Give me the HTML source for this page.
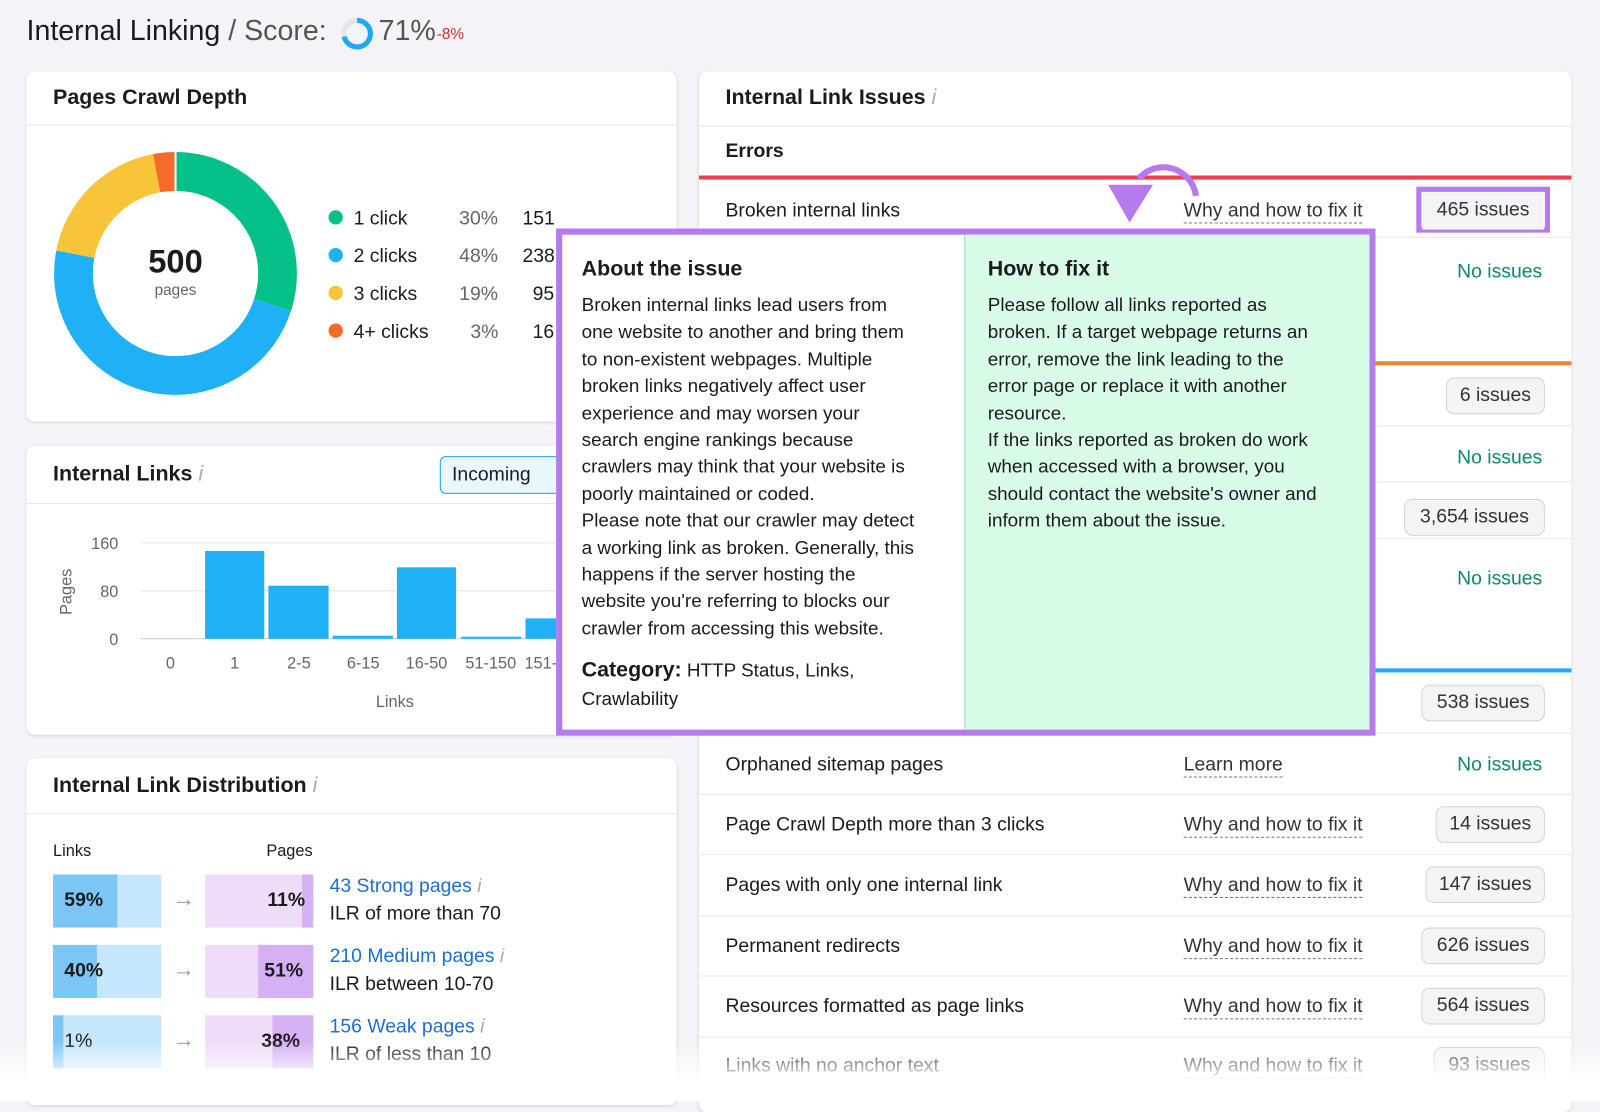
<!DOCTYPE html>
<html><head><meta charset="utf-8"><style>
*{box-sizing:border-box;margin:0;padding:0}
body{width:1600px;height:1079px;background:#f4f4f8;font-family:"Liberation Sans",sans-serif;color:#1b1b1f;position:relative;overflow:hidden}
#w{position:absolute;left:0;top:0;width:1568px;height:1058px;transform:scale(1.0204);transform-origin:0 0}
.a{position:absolute;white-space:nowrap}
.card{position:absolute;background:#fff;border-radius:8px;box-shadow:0 1px 3px rgba(0,0,0,.12)}
.h{font-weight:bold;font-size:21px}
.hl{position:absolute;height:1px;background:#e4e4ea}
.t{font-size:19px}
.badge{position:absolute;height:36px;border:1px solid #d2d2da;border-radius:8px;background:#f4f4f7;font-size:19px;color:#333;text-align:center;line-height:34px}
.link{position:absolute;font-size:19px;color:#333;border-bottom:1.5px dashed #777;line-height:22px}
.noi{position:absolute;font-size:19px;color:#0b8a6a}
.sep{position:absolute;left:685px;width:855px;height:1px;background:#e8e8ee}
</style></head><body><div id="w">
<div class="a" style="left:26px;top:14px;font-size:28px">Internal Linking <span style="color:#555">/ Score:</span></div>
<svg class="a" style="left:334px;top:17px" width="32" height="32"><circle cx="16" cy="16" r="13" fill="none" stroke="#e3e5ea" stroke-width="5"/><circle cx="16" cy="16" r="13" fill="none" stroke="#1ea8f5" stroke-width="5" stroke-dasharray="58 82" transform="rotate(-90 16 16)"/></svg>
<div class="a" style="left:371px;top:14px;font-size:28px;color:#555">71%</div>
<div class="a" style="left:428px;top:25px;font-size:15px;color:#e0242f">-8%</div>

<div class="card" style="left:26px;top:70px;width:637px;height:343px"></div>
<div class="a h" style="left:52px;top:84px">Pages Crawl Depth</div>
<div class="hl" style="left:26px;top:122px;width:637px"></div>
<svg class="a" style="left:52px;top:148px" width="240" height="240">
<g transform="translate(120,120) rotate(-90)" fill="none" stroke-width="38">
<circle r="100" stroke="#06c08a" stroke-dasharray="188.5 700"/>
<circle r="100" stroke="#1fb0f5" stroke-dasharray="0 188.5 301.6 700"/>
<circle r="100" stroke="#f8c43a" stroke-dasharray="0 490.1 119.4 700"/>
<circle r="100" stroke="#f66a2a" stroke-dasharray="0 609.5 18.8 700"/>
</g>
<g stroke="#fff" stroke-width="2" transform="translate(120,120)"><line x1="0" y1="-81" x2="0" y2="-120"/></g>
</svg>
<div class="a" style="left:122px;top:238px;width:100px;text-align:center;font-size:32px;font-weight:bold">500</div>
<div class="a" style="left:122px;top:276px;width:100px;text-align:center;font-size:15px;color:#666">pages</div>
<div class="a t" style="left:322px;top:196px;line-height:37px">
<div><span style="display:inline-block;width:14px;height:14px;border-radius:7px;background:#06c08a"></span>&nbsp; 1 click<span class="a" style="left:128px;color:#666">30%</span><span class="a" style="left:190px">151</span></div>
<div><span style="display:inline-block;width:14px;height:14px;border-radius:7px;background:#1fb0f5"></span>&nbsp; 2 clicks<span class="a" style="left:128px;color:#666">48%</span><span class="a" style="left:190px">238</span></div>
<div><span style="display:inline-block;width:14px;height:14px;border-radius:7px;background:#f8c43a"></span>&nbsp; 3 clicks<span class="a" style="left:128px;color:#666">19%</span><span class="a" style="left:200px">95</span></div>
<div><span style="display:inline-block;width:14px;height:14px;border-radius:7px;background:#f66a2a"></span>&nbsp; 4+ clicks<span class="a" style="left:139px;color:#666">3%</span><span class="a" style="left:200px">16</span></div>
</div>

<div class="card" style="left:26px;top:437px;width:637px;height:283px"></div>
<div class="a h" style="left:52px;top:453px">Internal Links <span style="color:#aaa;font-weight:normal;font-style:italic">i</span></div>
<div class="a" style="left:431px;top:447px;width:120px;height:37px;border:1px solid #1ea0e8;border-radius:6px 0 0 6px;background:#eaf6fd;font-size:19px;line-height:35px;padding-left:11px">Incoming</div>
<div class="hl" style="left:26px;top:493px;width:637px"></div>
<svg class="a" style="left:26px;top:500px" width="540" height="210">
<g stroke="#e6e6ea"><line x1="112" x2="520" y1="32" y2="32"/><line x1="112" x2="520" y1="79" y2="79"/><line x1="112" x2="520" y1="126" y2="126" stroke="#ccc"/></g>
<g fill="#666" font-size="16" font-family="Liberation Sans"><text x="90" y="38" text-anchor="end">160</text><text x="90" y="85" text-anchor="end">80</text><text x="90" y="132" text-anchor="end">0</text>
<text x="141" y="155" text-anchor="middle">0</text><text x="204" y="155" text-anchor="middle">1</text><text x="267" y="155" text-anchor="middle">2-5</text><text x="330" y="155" text-anchor="middle">6-15</text><text x="392" y="155" text-anchor="middle">16-50</text><text x="455" y="155" text-anchor="middle">51-150</text><text x="488" y="155">151-</text>
<text x="361" y="193" text-anchor="middle">Links</text><text transform="translate(44,80) rotate(-90)" text-anchor="middle">Pages</text></g>
<g fill="#1fb0f5"><rect x="175" y="40" width="58" height="86"/><rect x="237" y="74" width="59" height="52"/><rect x="300" y="123" width="59" height="3"/><rect x="363" y="56" width="58" height="70"/><rect x="426" y="124" width="59" height="2"/><rect x="489" y="106" width="30" height="20"/></g>
</svg>

<div class="card" style="left:26px;top:743px;width:637px;height:340px"></div>
<div class="a h" style="left:52px;top:758px">Internal Link Distribution <span style="color:#aaa;font-weight:normal;font-style:italic">i</span></div>
<div class="hl" style="left:26px;top:797px;width:637px"></div>
<div class="a" style="left:52px;top:826px;font-size:16px">Links</div>
<div class="a" style="left:261px;top:826px;font-size:16px">Pages</div>
<div class="a" style="left:52px;top:857px;width:106px;height:52px;background:#c5e6fb"><div style="width:63px;height:52px;background:#7cc6f5"></div></div>
<div class="a" style="left:52px;top:926px;width:106px;height:52px;background:#c5e6fb"><div style="width:43px;height:52px;background:#7cc6f5"></div></div>
<div class="a" style="left:52px;top:995px;width:106px;height:52px;background:#c5e6fb"><div style="width:10px;height:52px;background:#7cc6f5"></div></div>
<div class="a" style="left:201px;top:857px;width:106px;height:52px;background:#efdcf8"><div style="position:absolute;right:0;width:11px;height:52px;background:#d5b0f4"></div></div>
<div class="a" style="left:201px;top:926px;width:106px;height:52px;background:#efdcf8"><div style="position:absolute;right:0;width:54px;height:52px;background:#d5b0f4"></div></div>
<div class="a" style="left:201px;top:995px;width:106px;height:52px;background:#efdcf8"><div style="position:absolute;right:0;width:40px;height:52px;background:#d5b0f4"></div></div>
<div class="a t" style="left:63px;top:872px;font-weight:bold">59%</div>
<div class="a t" style="left:63px;top:941px;font-weight:bold">40%</div>
<div class="a t" style="left:63px;top:1010px">1%</div>
<div class="a t" style="left:262px;top:872px;font-weight:bold">11%</div>
<div class="a t" style="left:259px;top:941px;font-weight:bold">51%</div>
<div class="a t" style="left:256px;top:1010px;font-weight:bold">38%</div>
<div class="a" style="left:169px;top:868px;font-size:22px;color:#999">→</div>
<div class="a" style="left:169px;top:937px;font-size:22px;color:#999">→</div>
<div class="a" style="left:169px;top:1006px;font-size:22px;color:#999">→</div>
<div class="a t" style="left:323px;top:858px;color:#1c6fd1">43 Strong pages <span style="color:#aaa;font-style:italic">i</span></div>
<div class="a t" style="left:323px;top:885px">ILR of more than 70</div>
<div class="a t" style="left:323px;top:927px;color:#1c6fd1">210 Medium pages <span style="color:#aaa;font-style:italic">i</span></div>
<div class="a t" style="left:323px;top:954px">ILR between 10-70</div>
<div class="a t" style="left:323px;top:996px;color:#1c6fd1">156 Weak pages <span style="color:#aaa;font-style:italic">i</span></div>
<div class="a t" style="left:323px;top:1023px">ILR of less than 10</div>

<div class="card" style="left:685px;top:70px;width:855px;height:1020px"></div>
<div class="a h" style="left:711px;top:84px">Internal Link Issues <span style="color:#aaa;font-weight:normal;font-style:italic">i</span></div>
<div class="hl" style="left:685px;top:123px;width:855px"></div>
<div class="a" style="left:711px;top:138px;font-size:19px;font-weight:bold">Errors</div>
<div class="a" style="left:685px;top:172px;width:855px;height:4px;background:#f23b4b"></div>
<div class="a t" style="left:711px;top:196px">Broken internal links</div>
<div class="link" style="left:1160px;top:196px">Why and how to fix it</div>
<div class="a" style="left:1388px;top:183px;width:131px;height:45px;border:5px solid #b57bee"></div>
<div class="badge" style="left:1394px;top:189px;width:119px;border:none;border-radius:0">465 issues</div>
<div class="sep" style="top:232px"></div>
<div class="noi" style="left:1428px;top:256px">No issues</div>
<div class="a" style="left:685px;top:354px;width:855px;height:4px;background:#f5822d"></div>
<div class="badge" style="left:1417px;top:370px;width:97px">6 issues</div>
<div class="sep" style="top:417px"></div>
<div class="noi" style="left:1428px;top:438px">No issues</div>
<div class="sep" style="top:472px"></div>
<div class="badge" style="left:1376px;top:489px;width:138px">3,654 issues</div>
<div class="sep" style="top:527px"></div>
<div class="noi" style="left:1428px;top:557px">No issues</div>
<div class="a" style="left:685px;top:655px;width:855px;height:4px;background:#1ea8f5"></div>
<div class="badge" style="left:1393px;top:671px;width:121px">538 issues</div>
<div class="sep" style="top:718px"></div>
<div class="a t" style="left:711px;top:739px">Orphaned sitemap pages</div>
<div class="link" style="left:1160px;top:739px">Learn more</div>
<div class="noi" style="left:1428px;top:739px">No issues</div>
<div class="sep" style="top:778px"></div>
<div class="a t" style="left:711px;top:798px">Page Crawl Depth more than 3 clicks</div>
<div class="link" style="left:1160px;top:798px">Why and how to fix it</div>
<div class="badge" style="left:1407px;top:790px;width:107px">14 issues</div>
<div class="sep" style="top:837px"></div>
<div class="a t" style="left:711px;top:857px">Pages with only one internal link</div>
<div class="link" style="left:1160px;top:857px">Why and how to fix it</div>
<div class="badge" style="left:1397px;top:849px;width:117px">147 issues</div>
<div class="sep" style="top:897px"></div>
<div class="a t" style="left:711px;top:917px">Permanent redirects</div>
<div class="link" style="left:1160px;top:917px">Why and how to fix it</div>
<div class="badge" style="left:1393px;top:909px;width:121px">626 issues</div>
<div class="sep" style="top:956px"></div>
<div class="a t" style="left:711px;top:976px">Resources formatted as page links</div>
<div class="link" style="left:1160px;top:976px">Why and how to fix it</div>
<div class="badge" style="left:1393px;top:968px;width:121px">564 issues</div>
<div class="sep" style="top:1016px"></div>
<div class="a t" style="left:711px;top:1034px">Links with no anchor text</div>
<div class="link" style="left:1160px;top:1034px">Why and how to fix it</div>
<div class="badge" style="left:1405px;top:1026px;width:109px">93 issues</div>
<div class="a" style="left:0;top:1020px;width:1600px;height:59px;background:linear-gradient(rgba(255,255,255,0),#fff 70%)"></div>

<div class="a" style="left:545px;top:224px;width:803px;height:497px;border:6px solid #b57bee;background:#fff"></div>
<div class="a" style="left:945px;top:230px;width:397px;height:485px;background:#d9fce8;border-left:1px solid #9ee0bf"></div>
<div class="a" style="left:570px;top:252px;font-size:21px;font-weight:bold">About the issue</div>
<div class="a" style="left:570px;top:286px;font-size:18.5px;line-height:26.4px">Broken internal links lead users from<br>one website to another and bring them<br>to non-existent webpages. Multiple<br>broken links negatively affect user<br>experience and may worsen your<br>search engine rankings because<br>crawlers may think that your website is<br>poorly maintained or coded.<br>Please note that our crawler may detect<br>a working link as broken. Generally, this<br>happens if the server hosting the<br>website you're referring to blocks our<br>crawler from accessing this website.</div>
<div class="a" style="left:570px;top:643px;font-size:18.5px;line-height:28px"><b style="font-size:21px">Category:</b> HTTP Status, Links,<br>Crawlability</div>
<div class="a" style="left:968px;top:252px;font-size:21px;font-weight:bold">How to fix it</div>
<div class="a" style="left:968px;top:286px;font-size:18.5px;line-height:26.4px">Please follow all links reported as<br>broken. If a target webpage returns an<br>error, remove the link leading to the<br>error page or replace it with another<br>resource.<br>If the links reported as broken do work<br>when accessed with a browser, you<br>should contact the website's owner and<br>inform them about the issue.</div>
<svg class="a" style="left:1080px;top:140px" width="110" height="90"><path d="M36 35 A32 32 0 0 1 92 52" fill="none" stroke="#b57bee" stroke-width="6"/><polygon points="6,41 50,41 27,78" fill="#b57bee"/></svg>
</div></body></html>
